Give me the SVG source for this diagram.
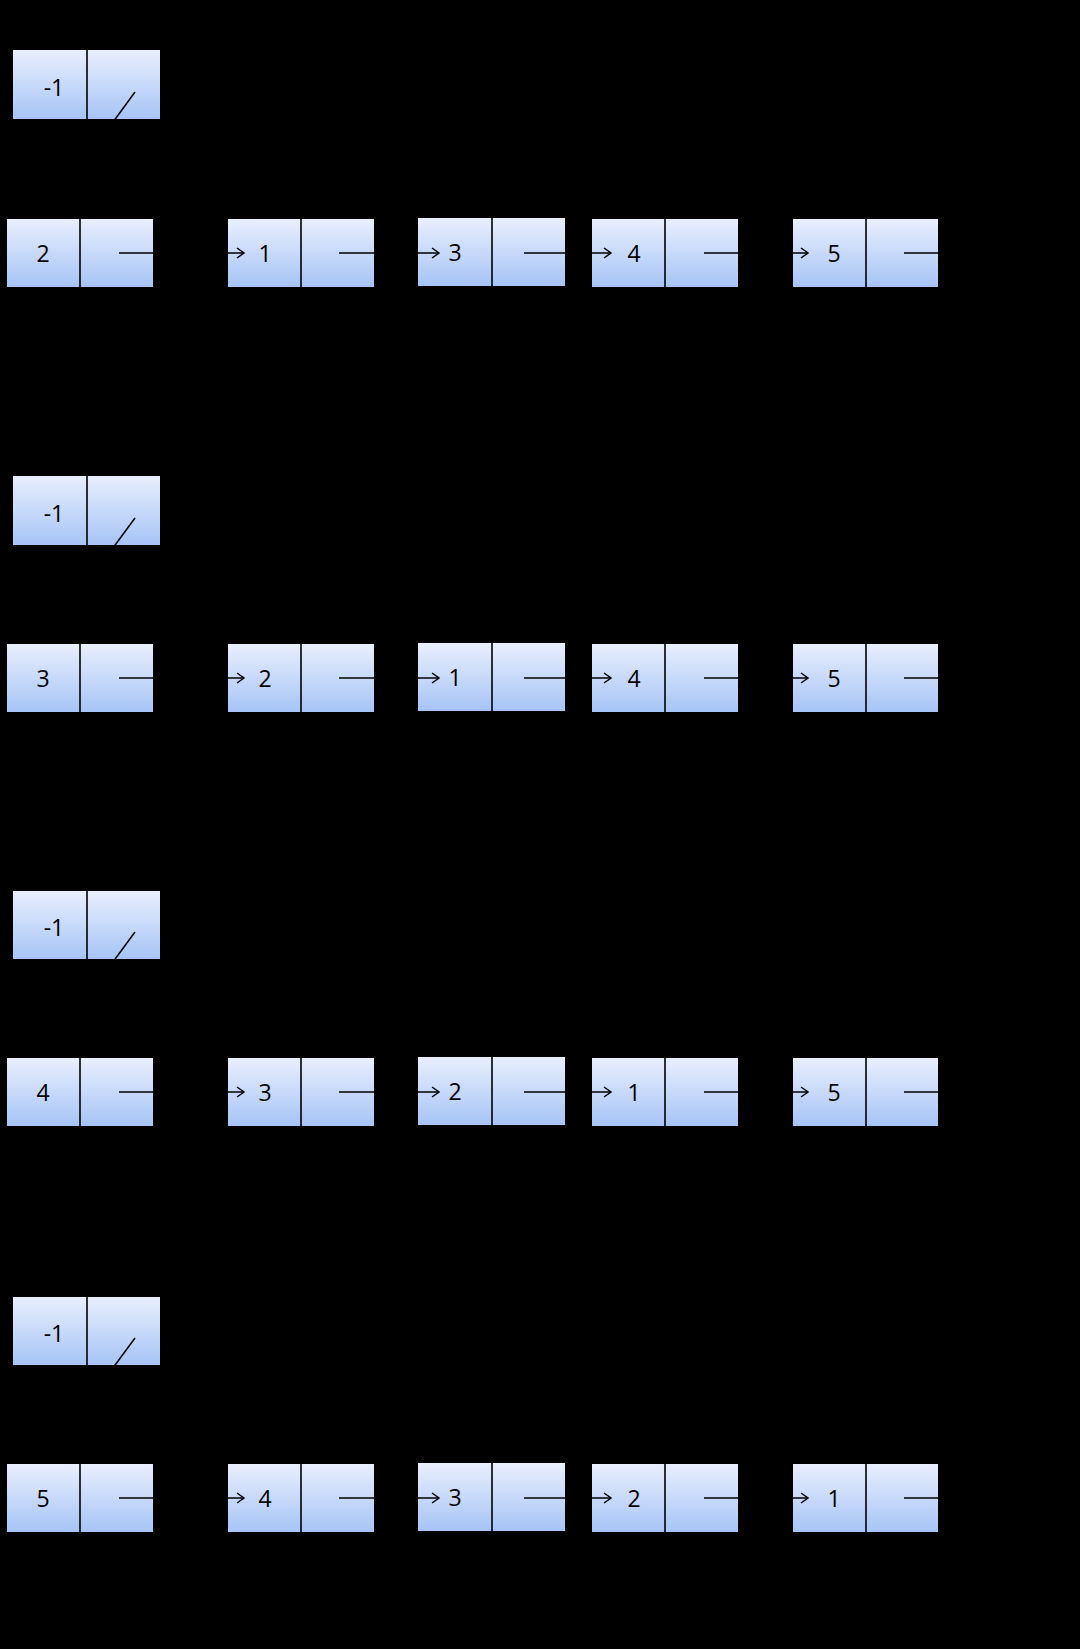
<svg xmlns="http://www.w3.org/2000/svg" width="1080" height="1649" viewBox="0 0 1080 1649">
<style>
.cell{fill:url(#g);stroke:none}
.div{stroke:#000;stroke-width:1.6}
.t{font-family:"Open Sans","Liberation Sans",sans-serif;font-size:23px;fill:#000;text-anchor:middle}
.c{stroke:#000;stroke-width:1.5;fill:none}
.ca{stroke:#000;stroke-width:1.5;fill:none;marker-end:url(#ah)}
</style>
<defs>
<linearGradient id="g" x1="0" y1="0" x2="0" y2="1">
<stop offset="0" stop-color="#e9effd"/>
<stop offset="1" stop-color="#a6c4f6"/>
</linearGradient>
<marker id="ah" markerUnits="userSpaceOnUse" markerWidth="14" markerHeight="14" refX="8" refY="7" orient="auto">
<path d="M1,2 L8,7 L1,12" stroke="#000" stroke-width="1.5" fill="none"/>
</marker>
</defs>
<rect x="0" y="0" width="1080" height="1649" fill="#000"/>

<!-- Round 1 -->
<g id="r1-head"><rect class="cell" x="13" y="50" width="147" height="69"/><line class="div" x1="87" y1="50" x2="87" y2="119"/><text class="t" x="54" y="96">-1</text></g>
<g id="r1-n1"><rect class="cell" x="7" y="219" width="146" height="68"/><line class="div" x1="80" y1="219" x2="80" y2="287"/><text class="t" x="43" y="262">2</text></g>
<g id="r1-n2"><rect class="cell" x="228" y="219" width="146" height="68"/><line class="div" x1="301" y1="219" x2="301" y2="287"/><text class="t" x="265" y="262">1</text></g>
<g id="r1-n3"><rect class="cell" x="418" y="218" width="147" height="68"/><line class="div" x1="492" y1="218" x2="492" y2="286"/><text class="t" x="455" y="261">3</text></g>
<g id="r1-n4"><rect class="cell" x="592" y="219" width="146" height="68"/><line class="div" x1="665" y1="219" x2="665" y2="287"/><text class="t" x="634" y="262">4</text></g>
<g id="r1-n5"><rect class="cell" x="793" y="219" width="145" height="68"/><line class="div" x1="866" y1="219" x2="866" y2="287"/><text class="t" x="834" y="262">5</text></g>

<!-- Round 2 -->
<g id="r2-head"><rect class="cell" x="13" y="476" width="147" height="69"/><line class="div" x1="87" y1="476" x2="87" y2="545"/><text class="t" x="54" y="522">-1</text></g>
<g id="r2-n1"><rect class="cell" x="7" y="644" width="146" height="68"/><line class="div" x1="80" y1="644" x2="80" y2="712"/><text class="t" x="43" y="687">3</text></g>
<g id="r2-n2"><rect class="cell" x="228" y="644" width="146" height="68"/><line class="div" x1="301" y1="644" x2="301" y2="712"/><text class="t" x="265" y="687">2</text></g>
<g id="r2-n3"><rect class="cell" x="418" y="643" width="147" height="68"/><line class="div" x1="492" y1="643" x2="492" y2="711"/><text class="t" x="455" y="686">1</text></g>
<g id="r2-n4"><rect class="cell" x="592" y="644" width="146" height="68"/><line class="div" x1="665" y1="644" x2="665" y2="712"/><text class="t" x="634" y="687">4</text></g>
<g id="r2-n5"><rect class="cell" x="793" y="644" width="145" height="68"/><line class="div" x1="866" y1="644" x2="866" y2="712"/><text class="t" x="834" y="687">5</text></g>

<!-- Round 3 -->
<g id="r3-head"><rect class="cell" x="13" y="891" width="147" height="68"/><line class="div" x1="87" y1="891" x2="87" y2="959"/><text class="t" x="54" y="936">-1</text></g>
<g id="r3-n1"><rect class="cell" x="7" y="1058" width="146" height="68"/><line class="div" x1="80" y1="1058" x2="80" y2="1126"/><text class="t" x="43" y="1101">4</text></g>
<g id="r3-n2"><rect class="cell" x="228" y="1058" width="146" height="68"/><line class="div" x1="301" y1="1058" x2="301" y2="1126"/><text class="t" x="265" y="1101">3</text></g>
<g id="r3-n3"><rect class="cell" x="418" y="1057" width="147" height="68"/><line class="div" x1="492" y1="1057" x2="492" y2="1125"/><text class="t" x="455" y="1100">2</text></g>
<g id="r3-n4"><rect class="cell" x="592" y="1058" width="146" height="68"/><line class="div" x1="665" y1="1058" x2="665" y2="1126"/><text class="t" x="634" y="1101">1</text></g>
<g id="r3-n5"><rect class="cell" x="793" y="1058" width="145" height="68"/><line class="div" x1="866" y1="1058" x2="866" y2="1126"/><text class="t" x="834" y="1101">5</text></g>

<!-- Round 4 -->
<g id="r4-head"><rect class="cell" x="13" y="1297" width="147" height="68"/><line class="div" x1="87" y1="1297" x2="87" y2="1365"/><text class="t" x="54" y="1342">-1</text></g>
<g id="r4-n1"><rect class="cell" x="7" y="1464" width="146" height="68"/><line class="div" x1="80" y1="1464" x2="80" y2="1532"/><text class="t" x="43" y="1507">5</text></g>
<g id="r4-n2"><rect class="cell" x="228" y="1464" width="146" height="68"/><line class="div" x1="301" y1="1464" x2="301" y2="1532"/><text class="t" x="265" y="1507">4</text></g>
<g id="r4-n3"><rect class="cell" x="418" y="1463" width="147" height="68"/><line class="div" x1="492" y1="1463" x2="492" y2="1531"/><text class="t" x="455" y="1506">3</text></g>
<g id="r4-n4"><rect class="cell" x="592" y="1464" width="146" height="68"/><line class="div" x1="665" y1="1464" x2="665" y2="1532"/><text class="t" x="634" y="1507">2</text></g>
<g id="r4-n5"><rect class="cell" x="793" y="1464" width="145" height="68"/><line class="div" x1="866" y1="1464" x2="866" y2="1532"/><text class="t" x="834" y="1507">1</text></g>

<g id="connectors">
<!-- round 1 -->
<line class="c" x1="135" y1="92" x2="43" y2="218"/>
<line class="ca" x1="119" y1="253" x2="244" y2="253"/>
<line class="ca" x1="339" y1="253" x2="439" y2="253"/>
<line class="ca" x1="524" y1="253" x2="611" y2="253"/>
<line class="ca" x1="704" y1="253" x2="808" y2="253"/>
<line class="c" x1="904" y1="253" x2="938" y2="253"/>
<!-- round 2 -->
<line class="c" x1="135" y1="518" x2="43" y2="643"/>
<line class="ca" x1="119" y1="678" x2="244" y2="678"/>
<line class="ca" x1="339" y1="678" x2="439" y2="678"/>
<line class="ca" x1="524" y1="678" x2="611" y2="678"/>
<line class="ca" x1="704" y1="678" x2="808" y2="678"/>
<line class="c" x1="904" y1="678" x2="938" y2="678"/>
<!-- round 3 -->
<line class="c" x1="135" y1="932" x2="43" y2="1057"/>
<line class="ca" x1="119" y1="1092" x2="244" y2="1092"/>
<line class="ca" x1="339" y1="1092" x2="439" y2="1092"/>
<line class="ca" x1="524" y1="1092" x2="611" y2="1092"/>
<line class="ca" x1="704" y1="1092" x2="808" y2="1092"/>
<line class="c" x1="904" y1="1092" x2="938" y2="1092"/>
<!-- round 4 -->
<line class="c" x1="135" y1="1338" x2="43" y2="1463"/>
<line class="ca" x1="119" y1="1498" x2="244" y2="1498"/>
<line class="ca" x1="339" y1="1498" x2="439" y2="1498"/>
<line class="ca" x1="524" y1="1498" x2="611" y2="1498"/>
<line class="ca" x1="704" y1="1498" x2="808" y2="1498"/>
<line class="c" x1="904" y1="1498" x2="938" y2="1498"/>
</g>
</svg>
